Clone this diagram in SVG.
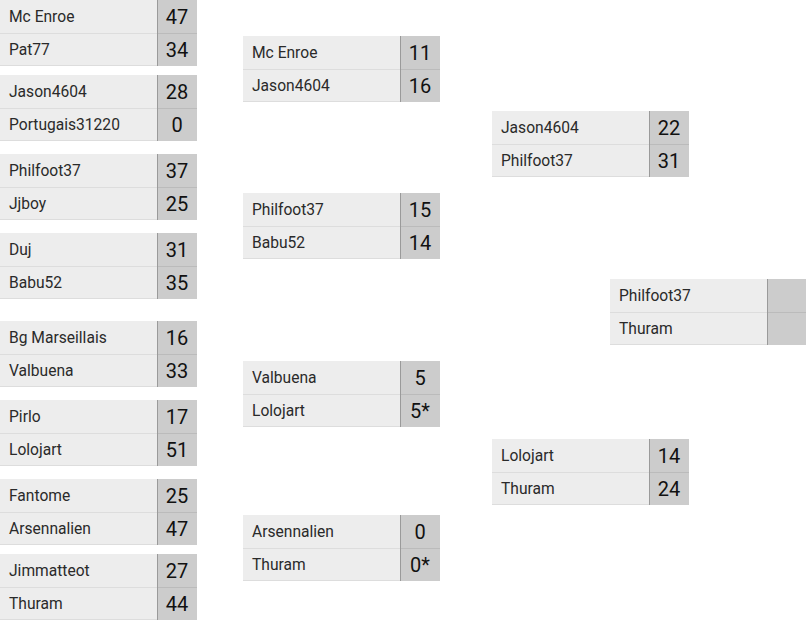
<svg xmlns="http://www.w3.org/2000/svg" width="806" height="620" viewBox="0 0 806 620">
<style>
  .nb { fill: #ededed; }
  .sb { fill: #cccccc; }
  .ns { stroke: #dddddd; stroke-width: 1; }
  .ss { stroke: #bbbbbb; stroke-width: 1; }
  .sl { stroke: #9a9a9a; stroke-width: 1; }
  .nm { font-family: Roboto, "Liberation Sans", sans-serif; font-size: 15.6px; fill: #2a2a2a; }
  .sc { font-family: Roboto, "Liberation Sans", sans-serif; font-size: 20px; fill: #111111; text-anchor: middle; }
</style>
<defs>
  <g id="box">
    <rect class="nb" x="0" y="0" width="197" height="66"/>
    <rect class="sb" x="157" y="0" width="40" height="66"/>
    <line class="ns" x1="0" y1="33.5" x2="157" y2="33.5"/>
    <line class="ss" x1="157" y1="33.5" x2="197" y2="33.5"/>
    <line class="ns" x1="0" y1="65.5" x2="157" y2="65.5"/>
    <line class="sl" x1="157.5" y1="0" x2="157.5" y2="66"/>
  </g>
  <g id="boxw">
    <rect class="nb" x="0" y="0" width="157" height="66"/>
    <rect class="sb" x="157" y="0" width="60" height="66"/>
    <line class="ns" x1="0" y1="33.5" x2="157" y2="33.5"/>
    <line class="ss" x1="157" y1="33.5" x2="217" y2="33.5"/>
    <line class="ns" x1="0" y1="65.5" x2="157" y2="65.5"/>
    <line class="sl" x1="157.5" y1="0" x2="157.5" y2="66"/>
  </g>
</defs>
<rect x="0" y="0" width="806" height="620" fill="#ffffff"/>

<g id="connectors"></g>

<!-- Round 1 -->
<g id="r1m1" transform="translate(0,0)">
  <use href="#box"/>
  <text class="nm" x="9" y="22">Mc Enroe</text><text class="sc" x="177" y="24">47</text>
  <text class="nm" x="9" y="55">Pat77</text><text class="sc" x="177" y="57">34</text>
</g>
<g id="r1m2" transform="translate(0,75)">
  <use href="#box"/>
  <text class="nm" x="9" y="22">Jason4604</text><text class="sc" x="177" y="24">28</text>
  <text class="nm" x="9" y="55">Portugais31220</text><text class="sc" x="177" y="57">0</text>
</g>
<g id="r1m3" transform="translate(0,154)">
  <use href="#box"/>
  <text class="nm" x="9" y="22">Philfoot37</text><text class="sc" x="177" y="24">37</text>
  <text class="nm" x="9" y="55">Jjboy</text><text class="sc" x="177" y="57">25</text>
</g>
<g id="r1m4" transform="translate(0,233)">
  <use href="#box"/>
  <text class="nm" x="9" y="22">Duj</text><text class="sc" x="177" y="24">31</text>
  <text class="nm" x="9" y="55">Babu52</text><text class="sc" x="177" y="57">35</text>
</g>
<g id="r1m5" transform="translate(0,321)">
  <use href="#box"/>
  <text class="nm" x="9" y="22">Bg Marseillais</text><text class="sc" x="177" y="24">16</text>
  <text class="nm" x="9" y="55">Valbuena</text><text class="sc" x="177" y="57">33</text>
</g>
<g id="r1m6" transform="translate(0,400)">
  <use href="#box"/>
  <text class="nm" x="9" y="22">Pirlo</text><text class="sc" x="177" y="24">17</text>
  <text class="nm" x="9" y="55">Lolojart</text><text class="sc" x="177" y="57">51</text>
</g>
<g id="r1m7" transform="translate(0,479)">
  <use href="#box"/>
  <text class="nm" x="9" y="22">Fantome</text><text class="sc" x="177" y="24">25</text>
  <text class="nm" x="9" y="55">Arsennalien</text><text class="sc" x="177" y="57">47</text>
</g>
<g id="r1m8" transform="translate(0,554)">
  <use href="#box"/>
  <text class="nm" x="9" y="22">Jimmatteot</text><text class="sc" x="177" y="24">27</text>
  <text class="nm" x="9" y="55">Thuram</text><text class="sc" x="177" y="57">44</text>
</g>

<!-- Round 2 -->
<g id="r2m1" transform="translate(243,36)">
  <use href="#box"/>
  <text class="nm" x="9" y="22">Mc Enroe</text><text class="sc" x="177" y="24">11</text>
  <text class="nm" x="9" y="55">Jason4604</text><text class="sc" x="177" y="57">16</text>
</g>
<g id="r2m2" transform="translate(243,193)">
  <use href="#box"/>
  <text class="nm" x="9" y="22">Philfoot37</text><text class="sc" x="177" y="24">15</text>
  <text class="nm" x="9" y="55">Babu52</text><text class="sc" x="177" y="57">14</text>
</g>
<g id="r2m3" transform="translate(243,361)">
  <use href="#box"/>
  <text class="nm" x="9" y="22">Valbuena</text><text class="sc" x="177" y="24">5</text>
  <text class="nm" x="9" y="55">Lolojart</text><text class="sc" x="177" y="57">5*</text>
</g>
<g id="r2m4" transform="translate(243,515)">
  <use href="#box"/>
  <text class="nm" x="9" y="22">Arsennalien</text><text class="sc" x="177" y="24">0</text>
  <text class="nm" x="9" y="55">Thuram</text><text class="sc" x="177" y="57">0*</text>
</g>

<!-- Round 3 -->
<g id="r3m1" transform="translate(492,111)">
  <use href="#box"/>
  <text class="nm" x="9" y="22">Jason4604</text><text class="sc" x="177" y="24">22</text>
  <text class="nm" x="9" y="55">Philfoot37</text><text class="sc" x="177" y="57">31</text>
</g>
<g id="r3m2" transform="translate(492,439)">
  <use href="#box"/>
  <text class="nm" x="9" y="22">Lolojart</text><text class="sc" x="177" y="24">14</text>
  <text class="nm" x="9" y="55">Thuram</text><text class="sc" x="177" y="57">24</text>
</g>

<!-- Final -->
<g id="final" transform="translate(610,279)">
  <use href="#boxw"/>
  <text class="nm" x="9" y="22">Philfoot37</text>
  <text class="nm" x="9" y="55">Thuram</text>
</g>
</svg>
